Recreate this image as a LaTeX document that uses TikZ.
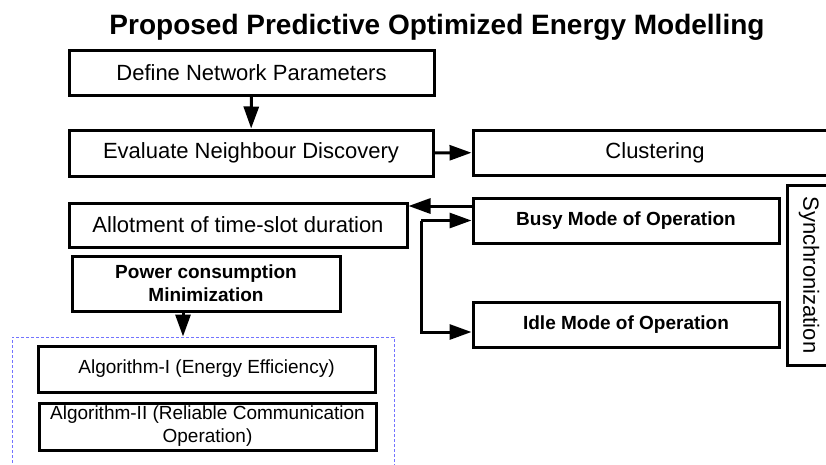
\documentclass[tikz,border=0pt]{standalone}
\usepackage{fontspec}
\setmainfont{Liberation Sans}
\usepackage{tikz}
\usetikzlibrary{arrows.meta, positioning, calc}
\tikzstyle{block} = [rectangle, draw=black, line width=3pt, inner sep=0pt, text centered, font=\fontsize{22}{26}\selectfont]
\tikzstyle{modebox} = [block, font=\fontsize{19}{23}\selectfont\bfseries]
\tikzstyle{algo} = [block, align=center, font=\fontsize{19}{23}\selectfont]
\tikzstyle{group} = [rectangle, draw=blue!55, densely dashed, line width=1pt, inner sep=0pt]
\tikzstyle{arrow} = [line width=3pt, -{Triangle[length=22pt, width=15pt]}]

\begin{document}
\begin{tikzpicture}[x=1pt, y=-1pt]
      \useasboundingbox (0,0) rectangle (826,464);

      % Title
      \node[font=\fontsize{28}{32}\selectfont\bfseries, anchor=base] (title) at (437,34) {Proposed Predictive Optimized Energy Modelling};

      % Left column
      \node[block, minimum width=365pt, minimum height=45pt] (define) at (251.5,72.5) {Define Network Parameters};
      \node[block, minimum width=364pt, minimum height=46pt] (evaluate) at (251,153) {Evaluate Neighbour Discovery};
      \node[block, minimum width=338pt, minimum height=44pt] (allot) at (238,225) {Allotment of time-slot duration};
      \node[modebox, align=center, minimum width=268pt, minimum height=55pt] (power) at (206,283.5) {Power consumption\\Minimization};

      % Algorithms group
      \node[group, minimum width=382pt, minimum height=138pt] (algos) at (203,406) {};
      \node[algo, minimum width=337pt, minimum height=46pt] (algoone) at (206.5,369) {Algorithm-I (Energy Efficiency)};
      \node[algo, minimum width=337pt, minimum height=47pt] (algotwo) at (207.5,426.5) {Algorithm-II (Reliable Communication\\Operation)};

      % Right column
      \node[block, minimum width=364pt, minimum height=45pt] (cluster) at (655,152.5) {Clustering};
      \node[modebox, minimum width=306pt, minimum height=45pt] (busy) at (626,220.5) {Busy Mode of Operation};
      \node[modebox, minimum width=306pt, minimum height=45pt] (idle) at (626,324.5) {Idle Mode of Operation};
      \node[block, rotate=-90, minimum width=180pt, minimum height=44pt] (sync) at (809,275) {Synchronization};

      % Connectors
      \draw[arrow] (define) -- (evaluate);
      \draw[arrow] (evaluate) -- (cluster);
      \draw[arrow] ([yshift=14.5pt]busy.west) -- ([yshift=14.5pt]busy.west -| allot.east);
      \coordinate (split) at (421,220.5);
      \draw[arrow] (split) -- (busy.west);
      \draw[arrow] (split) |- ([yshift=-7.5pt]idle.west);
      \draw[arrow] ([xshift=-23pt]power.south) -- ([xshift=-23pt]power.south |- algos.north);
    \end{tikzpicture}
\end{document}
